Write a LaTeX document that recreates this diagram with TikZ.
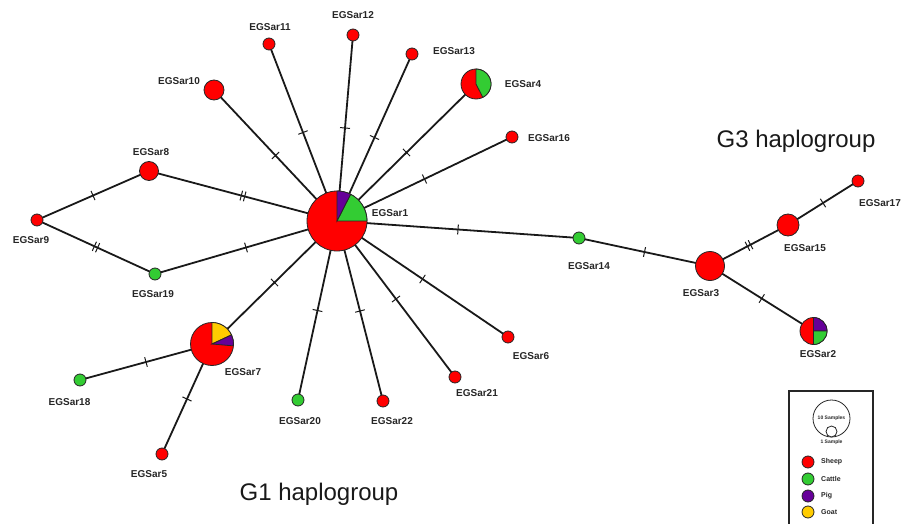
\documentclass[tikz,border=0pt]{standalone}
\usepackage{fontspec}
\setmainfont{Liberation Sans}
\usetikzlibrary{backgrounds}
\definecolor{sheep}{RGB}{255,0,0}
\definecolor{cattle}{RGB}{51,204,51}
\definecolor{pig}{RGB}{102,0,153}
\definecolor{goat}{RGB}{255,204,0}

\begin{document}
\begin{tikzpicture}[x=1pt,y=1pt,
    hap/.style={circle, draw=black!85, line width=0.8pt, inner sep=0pt, fill=sheep},
    lab/.style={font=\fontsize{10}{12}\selectfont\bfseries, text=black!85, inner sep=0pt},
    big/.style={font=\fontsize{24}{28}\selectfont, text=black!90, inner sep=0pt},
    lgd/.style={font=\fontsize{7}{8}\selectfont\bfseries, text=black!85, inner sep=0pt},
    edge/.style={line width=1.8pt, black!90},
    wedge/.style={draw=black!85, line width=0.8pt},
    mut/.style={sloped, inner sep=0pt}]
    \useasboundingbox (0,0) rectangle (911,-524);
    % Haplotypes
    \node[hap, minimum size=60pt] (n1) at (337,-221) {};
    \node[hap, minimum size=27pt, fill=sheep] (n2) at (813.5,-331) {};
    \node[hap, minimum size=29pt] (n3) at (710,-266) {};
    \node[hap, minimum size=30pt] (n4) at (476,-84) {};
    \node[hap, minimum size=12pt] (n5) at (162,-454) {};
    \node[hap, minimum size=12pt] (n6) at (508,-337) {};
    \node[hap, minimum size=43pt] (n7) at (212,-344) {};
    \node[hap, minimum size=19pt] (n8) at (149,-171) {};
    \node[hap, minimum size=12pt] (n9) at (37,-220) {};
    \node[hap, minimum size=20pt] (n10) at (214,-90) {};
    \node[hap, minimum size=12pt] (n11) at (269,-44) {};
    \node[hap, minimum size=12pt] (n12) at (353,-35) {};
    \node[hap, minimum size=12pt] (n13) at (412,-54) {};
    \node[hap, minimum size=12pt, fill=cattle] (n14) at (579,-238) {};
    \node[hap, minimum size=22pt] (n15) at (788,-225) {};
    \node[hap, minimum size=12pt] (n16) at (512,-137) {};
    \node[hap, minimum size=12pt] (n17) at (858,-181) {};
    \node[hap, minimum size=12pt, fill=cattle] (n18) at (80,-380) {};
    \node[hap, minimum size=12pt, fill=cattle] (n19) at (155,-274) {};
    \node[hap, minimum size=12pt, fill=cattle] (n20) at (298,-400) {};
    \node[hap, minimum size=12pt] (n21) at (455,-377) {};
    \node[hap, minimum size=12pt] (n22) at (383,-401) {};
    % Pie slices
    \filldraw[wedge, fill=cattle] (n1.center) -- ++(0:30pt) arc[start angle=0, end angle=63, radius=30pt] -- cycle;
    \filldraw[wedge, fill=pig] (n1.center) -- ++(63:30pt) arc[start angle=63, end angle=90, radius=30pt] -- cycle;
    \filldraw[wedge, fill=cattle] (n4.center) -- ++(-63:15pt) arc[start angle=-63, end angle=90, radius=15pt] -- cycle;
    \filldraw[wedge, fill=goat] (n7.center) -- ++(25:21.5pt) arc[start angle=25, end angle=90, radius=21.5pt] -- cycle;
    \filldraw[wedge, fill=pig] (n7.center) -- ++(-5:21.5pt) arc[start angle=-5, end angle=25, radius=21.5pt] -- cycle;
    \filldraw[wedge, fill=pig] (n2.center) -- ++(0:13.5pt) arc[start angle=0, end angle=90, radius=13.5pt] -- cycle;
    \filldraw[wedge, fill=cattle] (n2.center) -- ++(-90:13.5pt) arc[start angle=-90, end angle=0, radius=13.5pt] -- cycle;
    % Links with mutation steps
    \begin{pgfonlayer}{background}
    \draw[edge] (n1.center) -- node[mut] {\rule{1pt}{10pt}} (n10.center);
    \draw[edge] (n1.center) -- node[mut] {\rule{1pt}{10pt}} (n11.center);
    \draw[edge] (n1.center) -- node[mut] {\rule{1pt}{10pt}} (n12.center);
    \draw[edge] (n1.center) -- node[mut] {\rule{1pt}{10pt}} (n13.center);
    \draw[edge] (n1.center) -- node[mut] {\rule{1pt}{10pt}} (n4.center);
    \draw[edge] (n1.center) -- node[mut] {\rule{1pt}{10pt}} (n16.center);
    \draw[edge] (n1.center) -- node[mut] {\rule{1pt}{10pt}\hspace{2.5pt}\rule{1pt}{10pt}} (n8.center);
    \draw[edge] (n1.center) -- node[mut] {\rule{1pt}{10pt}} (n19.center);
    \draw[edge] (n1.center) -- node[mut] {\rule{1pt}{10pt}} (n7.center);
    \draw[edge] (n1.center) -- node[mut] {\rule{1pt}{10pt}} (n20.center);
    \draw[edge] (n1.center) -- node[mut] {\rule{1pt}{10pt}} (n22.center);
    \draw[edge] (n1.center) -- node[mut] {\rule{1pt}{10pt}} (n21.center);
    \draw[edge] (n1.center) -- node[mut] {\rule{1pt}{10pt}} (n6.center);
    \draw[edge] (n1.center) -- node[mut] {\rule{1pt}{10pt}} (n14.center);
    \draw[edge] (n14.center) -- node[mut] {\rule{1pt}{10pt}} (n3.center);
    \draw[edge] (n3.center) -- node[mut] {\rule{1pt}{10pt}\hspace{2.5pt}\rule{1pt}{10pt}} (n15.center);
    \draw[edge] (n15.center) -- node[mut] {\rule{1pt}{10pt}} (n17.center);
    \draw[edge] (n3.center) -- node[mut] {\rule{1pt}{10pt}} (n2.center);
    \draw[edge] (n9.center) -- node[mut] {\rule{1pt}{10pt}} (n8.center);
    \draw[edge] (n9.center) -- node[mut] {\rule{1pt}{10pt}\hspace{2.5pt}\rule{1pt}{10pt}} (n19.center);
    \draw[edge] (n7.center) -- node[mut] {\rule{1pt}{10pt}} (n18.center);
    \draw[edge] (n7.center) -- node[mut] {\rule{1pt}{10pt}} (n5.center);
    \end{pgfonlayer}
    % Names
    \node[lab] (t1) at (390,-213) {EGSar1};
    \node[lab] (t2) at (818,-354) {EGSar2};
    \node[lab] (t3) at (701,-293) {EGSar3};
    \node[lab] (t4) at (523,-84) {EGSar4};
    \node[lab] (t5) at (149,-474) {EGSar5};
    \node[lab] (t6) at (531,-356) {EGSar6};
    \node[lab] (t7) at (243,-372) {EGSar7};
    \node[lab] (t8) at (151,-152) {EGSar8};
    \node[lab] (t9) at (31,-240) {EGSar9};
    \node[lab] (t10) at (179,-81) {EGSar10};
    \node[lab] (t11) at (270,-27) {EGSar11};
    \node[lab] (t12) at (353,-15) {EGSar12};
    \node[lab] (t13) at (454,-51) {EGSar13};
    \node[lab] (t14) at (589,-266) {EGSar14};
    \node[lab] (t15) at (805,-248) {EGSar15};
    \node[lab] (t16) at (549,-138) {EGSar16};
    \node[lab] (t17) at (880,-203) {EGSar17};
    \node[lab] (t18) at (69.5,-402) {EGSar18};
    \node[lab] (t19) at (153,-294) {EGSar19};
    \node[lab] (t20) at (300,-421) {EGSar20};
    \node[lab] (t21) at (477,-393) {EGSar21};
    \node[lab] (t22) at (392,-421) {EGSar22};
    \node[big] (g3) at (796,-141) {G3 haplogroup};
    \node[big] (g1) at (319,-494) {G1 haplogroup};
    % Legend
    \draw[line width=1.6pt, black!85] (789,-524) -- (789,-391) -- (873,-391) -- (873,-524);
    \node[circle, draw=black!85, line width=0.8pt, minimum size=37pt, inner sep=0pt] (k10) at (831.5,-418.5) {};
    \node[circle, draw=black!85, line width=0.8pt, fill=white, minimum size=11pt, inner sep=0pt] (k1) at (831.5,-431.5) {};
    \node[lgd, font=\fontsize{5}{6}\selectfont\bfseries] (tk10) at (831.5,-418) {10 Samples};
    \node[lgd, font=\fontsize{5}{6}\selectfont\bfseries] (tk1) at (831.5,-442) {1 Sample};
    \node[hap, minimum size=12pt, fill=sheep] (kSheep) at (808,-462) {};
    \node[hap, minimum size=12pt, fill=cattle] (kCattle) at (808,-479) {};
    \node[hap, minimum size=12pt, fill=pig] (kPig) at (808,-496) {};
    \node[hap, minimum size=12pt, fill=goat] (kGoat) at (808,-512) {};
    \node[lgd, anchor=west] (tSheep) at (821,-462) {Sheep};
    \node[lgd, anchor=west] (tCattle) at (821,-479) {Cattle};
    \node[lgd, anchor=west] (tPig) at (821,-496) {Pig};
    \node[lgd, anchor=west] (tGoat) at (821,-512) {Goat};
\end{tikzpicture}
\end{document}
